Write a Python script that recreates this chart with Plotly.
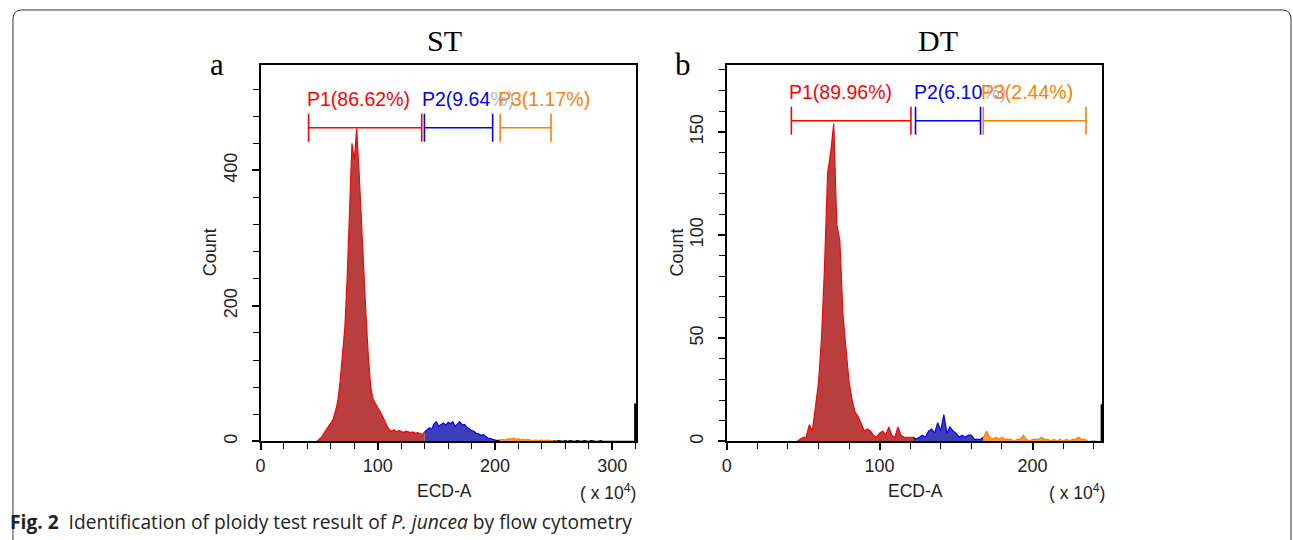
import plotly.graph_objects as go

# ---------------- data ----------------
# Panel a (ST): histogram, bin centres in ECD-A (x10^4), counts
st_bins = list(range(48, 320, 2))
st_counts = [
    0, 3, 6, 12, 18, 22, 27, 33, 45, 60,          # 48-66
    90, 130, 170, 245, 330, 440, 415, 462, 400, 320,  # 68-86
    262, 185, 125, 80, 62, 55, 50, 44, 38, 30,    # 88-106
    22, 17, 15, 17, 14, 16, 15, 13, 15, 14,       # 108-126
    13, 14, 12, 13, 11, 10,                       # 128-138
    14, 17, 20, 18, 26, 29, 22, 25, 27, 24,       # 140-158
    28, 26, 29, 22, 25, 29, 24, 25, 21, 18,       # 160-178
    16, 15, 12, 11, 9, 10, 7, 5, 4, 3,            # 180-198
    2, 1,                                         # 200-202
    2, 3, 2, 3, 4, 3, 5, 3, 4, 2,                 # 204-222
    3, 2, 3, 2, 1, 2, 1, 1, 2, 1, 2, 1, 1,        # 224-248
    1, 0, 1, 0, 0, 1, 0, 1, 0, 0,                 # 250-268
    1, 0, 0, 1, 0, 0, 1, 0, 0, 0,                 # 270-288
    1, 0, 0, 0, 1, 0, 0, 0, 0, 1,                 # 290-308
    0, 0, 1, 0, 0,                                # 310-318
]
st_edge_x = [319.5, 319.5]
st_edge_counts = [0, 56]

st_gate_names = ["P1", "P2", "P3"]
st_gate_pct = ["86.62%", "9.64%", "1.17%"]
st_gate_lo = [41.0, 139.8, 204.4]
st_gate_hi = [137.5, 198.0, 247.8]
st_gate_level = 463

# Panel b (DT)
dt_bins = list(range(46, 244, 2))
dt_counts = [
    0, 1, 2, 2, 8, 5, 16, 28, 50, 85,             # 46-64
    130, 140, 154, 105, 97, 62, 45, 29, 20, 14,   # 66-84
    12, 8, 5, 6, 5, 3, 2, 4, 5, 3,                # 86-104
    7, 3, 2, 7, 3, 2, 2, 2,                       # 106-120
    2, 1, 2, 3, 2, 5, 6, 4, 9, 5,                 # 122-140
    13, 4, 7, 5, 4, 2, 3, 2, 3, 3,                # 142-160
    1, 1, 1,                                      # 162-166
    2, 5, 2, 1, 2, 1, 2, 1, 1, 1,                 # 168-186
    0, 1, 1, 3, 1, 0, 1, 1, 1, 2,                 # 188-206
    1, 1, 0, 1, 0, 1, 0, 1, 0, 1,                 # 208-226
    1, 2, 1, 1,                                   # 228-234
    0, 0, 0, 0, 0,                                # 236-244
]
dt_edge_x = [245.2, 245.2]
dt_edge_counts = [0, 18]

dt_gate_names = ["P1", "P2", "P3"]
dt_gate_pct = ["89.96%", "6.10%", "2.44%"]
dt_gate_lo = [42.3, 123.5, 167.8]
dt_gate_hi = [120.5, 166.0, 235.0]
dt_gate_level = 155.4

# ---------------- style ----------------
gate_line = ["#ff0000", "#0000ff", "#ff8000"]
gate_fill = ["rgb(185,62,62)", "rgb(62,62,185)", "rgb(255,150,60)"]
other_line = "#000000"
other_fill = "rgb(60,60,60)"

fig = go.Figure()


def add_hist(bins, counts, lo, hi, xa, ya):
    def gate_of(x):
        for i in range(len(lo)):
            if lo[i] - 1 <= x <= hi[i] + 1:
                return i
        return -1

    runs = []
    cur = None
    for k, x in enumerate(bins):
        g = gate_of(x)
        if cur is None or cur[0] != g:
            cur = [g, []]
            runs.append(cur)
        cur[1].append(k)
    for g, idx in runs:
        ks = list(idx)
        if ks[-1] + 1 < len(bins):
            ks.append(ks[-1] + 1)
        xs = [bins[k] for k in ks]
        ys = [counts[k] for k in ks]
        lc = gate_line[g] if g >= 0 else other_line
        fc = gate_fill[g] if g >= 0 else other_fill
        fig.add_trace(go.Scatter(
            x=xs, y=ys, mode="lines", fill="tozeroy",
            line=dict(color=lc, width=1.2), fillcolor=fc,
            xaxis=xa, yaxis=ya, showlegend=False, hoverinfo="skip"))


def add_gates(names, pct, lo, hi, level, xa, ya):
    xr = "x" if xa == "x" else "x2"
    yr = "y" if ya == "y" else "y2"
    for i in range(len(names)):
        fig.add_trace(go.Scatter(
            x=[lo[i], hi[i]], y=[level, level], mode="lines+markers",
            line=dict(color=gate_line[i], width=1.4),
            marker=dict(symbol="line-ns", size=20,
                        line=dict(color=gate_line[i], width=1.6)),
            xaxis=xa, yaxis=ya, showlegend=False, hoverinfo="skip"))
    for i in range(len(names)):
        if i == 1:
            txt = names[i] + "(" + pct[i][:-1] + "<span style='color:#b4b4f0'>%)</span>"
        else:
            txt = names[i] + "(" + pct[i] + ")"
        fig.add_annotation(
            x=lo[i], y=level, xref=xr, yref=yr, text=txt, showarrow=False,
            xanchor="left", yanchor="middle", yshift=29, xshift=-4,
            font=dict(family="Liberation Sans, Arial", size=19.5,
                      color=gate_line[i]))


add_hist(st_bins, st_counts, st_gate_lo, st_gate_hi, "x", "y")
fig.add_trace(go.Scatter(x=st_edge_x, y=st_edge_counts, mode="lines",
                         line=dict(color="black", width=2),
                         xaxis="x", yaxis="y", showlegend=False))
add_gates(st_gate_names, st_gate_pct, st_gate_lo, st_gate_hi, st_gate_level, "x", "y")

add_hist(dt_bins, dt_counts, dt_gate_lo, dt_gate_hi, "x2", "y2")
fig.add_trace(go.Scatter(x=dt_edge_x, y=dt_edge_counts, mode="lines",
                         line=dict(color="black", width=2),
                         xaxis="x2", yaxis="y2", showlegend=False))
add_gates(dt_gate_names, dt_gate_pct, dt_gate_lo, dt_gate_hi, dt_gate_level, "x2", "y2")

tickfont = dict(family="Liberation Sans, Arial", size=18, color="#222")
axcommon = dict(showgrid=False, zeroline=False, showline=True, linecolor="black",
                linewidth=1.5, mirror=True, ticks="outside", ticklen=7,
                tickwidth=1.5, tickcolor="black", tickfont=tickfont)
minor_common = dict(ticks="outside", ticklen=6, tickcolor="black", tickwidth=1.3)

W, H = 1293, 540
PB, PT = 443, 65   # plot area bottom / top in pixels
fig.update_layout(
    width=W, height=H, margin=dict(l=0, r=0, t=0, b=0),
    paper_bgcolor="white", plot_bgcolor="white",
    xaxis=dict(domain=[256.5 / W, 633.5 / W], range=[0, 320.3], dtick=100,
               minor=dict(dtick=20, **minor_common), anchor="y", **axcommon),
    yaxis=dict(domain=[1 - PB / H, 1 - PT / H], range=[0, 556], dtick=200,
               tickangle=-90, ticklabelstandoff=8, minor=dict(dtick=40, **minor_common),
               anchor="x", **axcommon),
    xaxis2=dict(domain=[724.5 / W, 1101.5 / W], range=[0, 245.6], dtick=100,
                minor=dict(dtick=20, **minor_common), anchor="y2", **axcommon),
    yaxis2=dict(domain=[1 - PB / H, 1 - PT / H], range=[0, 182.5], dtick=50,
                tickangle=-90, ticklabelstandoff=8, minor=dict(dtick=10, **minor_common),
                anchor="x2", **axcommon),
)

serif = "Liberation Serif, Times New Roman, serif"
sans = "Liberation Sans, Arial"
ann = [
    dict(x=441, y=41, text="ST", font=dict(family=serif, size=30, color="black")),
    dict(x=937, y=41, text="DT", font=dict(family=serif, size=30, color="black")),
    dict(x=213, y=65, text="a", font=dict(family=serif, size=31, color="black")),
    dict(x=681, y=65, text="b", font=dict(family=serif, size=31, color="black")),
    dict(x=441, y=493, text="ECD-A", font=dict(family=sans, size=17.5, color="#222")),
    dict(x=914, y=493, text="ECD-A", font=dict(family=sans, size=17.5, color="#222")),
    dict(x=605, y=494, text="( x 10<sup>4</sup>)", font=dict(family=sans, size=17.5, color="#222")),
    dict(x=1076, y=494, text="( x 10<sup>4</sup>)", font=dict(family=sans, size=17.5, color="#222")),
    dict(x=206, y=253, text="Count", textangle=-90, font=dict(family=sans, size=18, color="#222")),
    dict(x=675, y=253, text="Count", textangle=-90, font=dict(family=sans, size=18, color="#222")),
]
for a in ann:
    fig.add_annotation(xref="paper", yref="paper", x=a["x"] / W, y=1 - a["y"] / H,
                       text=a["text"], showarrow=False, xanchor="center",
                       yanchor="middle", font=a["font"],
                       textangle=a.get("textangle", 0))

fig.add_annotation(
    xref="paper", yref="paper", x=3 / W, y=1 - 523 / H, xanchor="left", yanchor="middle",
    showarrow=False,
    text="<b>Fig. 2</b>  Identification of ploidy test result of <i>P. juncea</i> by flow cytometry",
    font=dict(family="Open Sans, Noto Sans", size=19.2, color="#222"))


# outer rounded frame (pixel positions converted to paper coords)
def px(x):
    return x / W


def py(y):
    return 1 - y / H


r = 9
x0, x1, y0 = 8, 1291, 10
path = (f"M {px(x0)},{py(H + 5)} L {px(x0)},{py(y0 + r)} Q {px(x0)},{py(y0)} {px(x0 + r)},{py(y0)} "
        f"L {px(x1 - r)},{py(y0)} Q {px(x1)},{py(y0)} {px(x1)},{py(y0 + r)} L {px(x1)},{py(H + 5)}")
fig.add_shape(type="path", path=path, xref="paper", yref="paper",
              line=dict(color="#333", width=1))

fig.write_html("out.html", config={"displayModeBar": False})

# remove the default page margin so the figure sits at the window's top-left
with open("out.html", "r", encoding="utf-8") as f:
    html = f.read()
html = html.replace("<head>", "<head><style>html,body{margin:0;padding:0;overflow:hidden;}</style>", 1)
with open("out.html", "w", encoding="utf-8") as f:
    f.write(html)
